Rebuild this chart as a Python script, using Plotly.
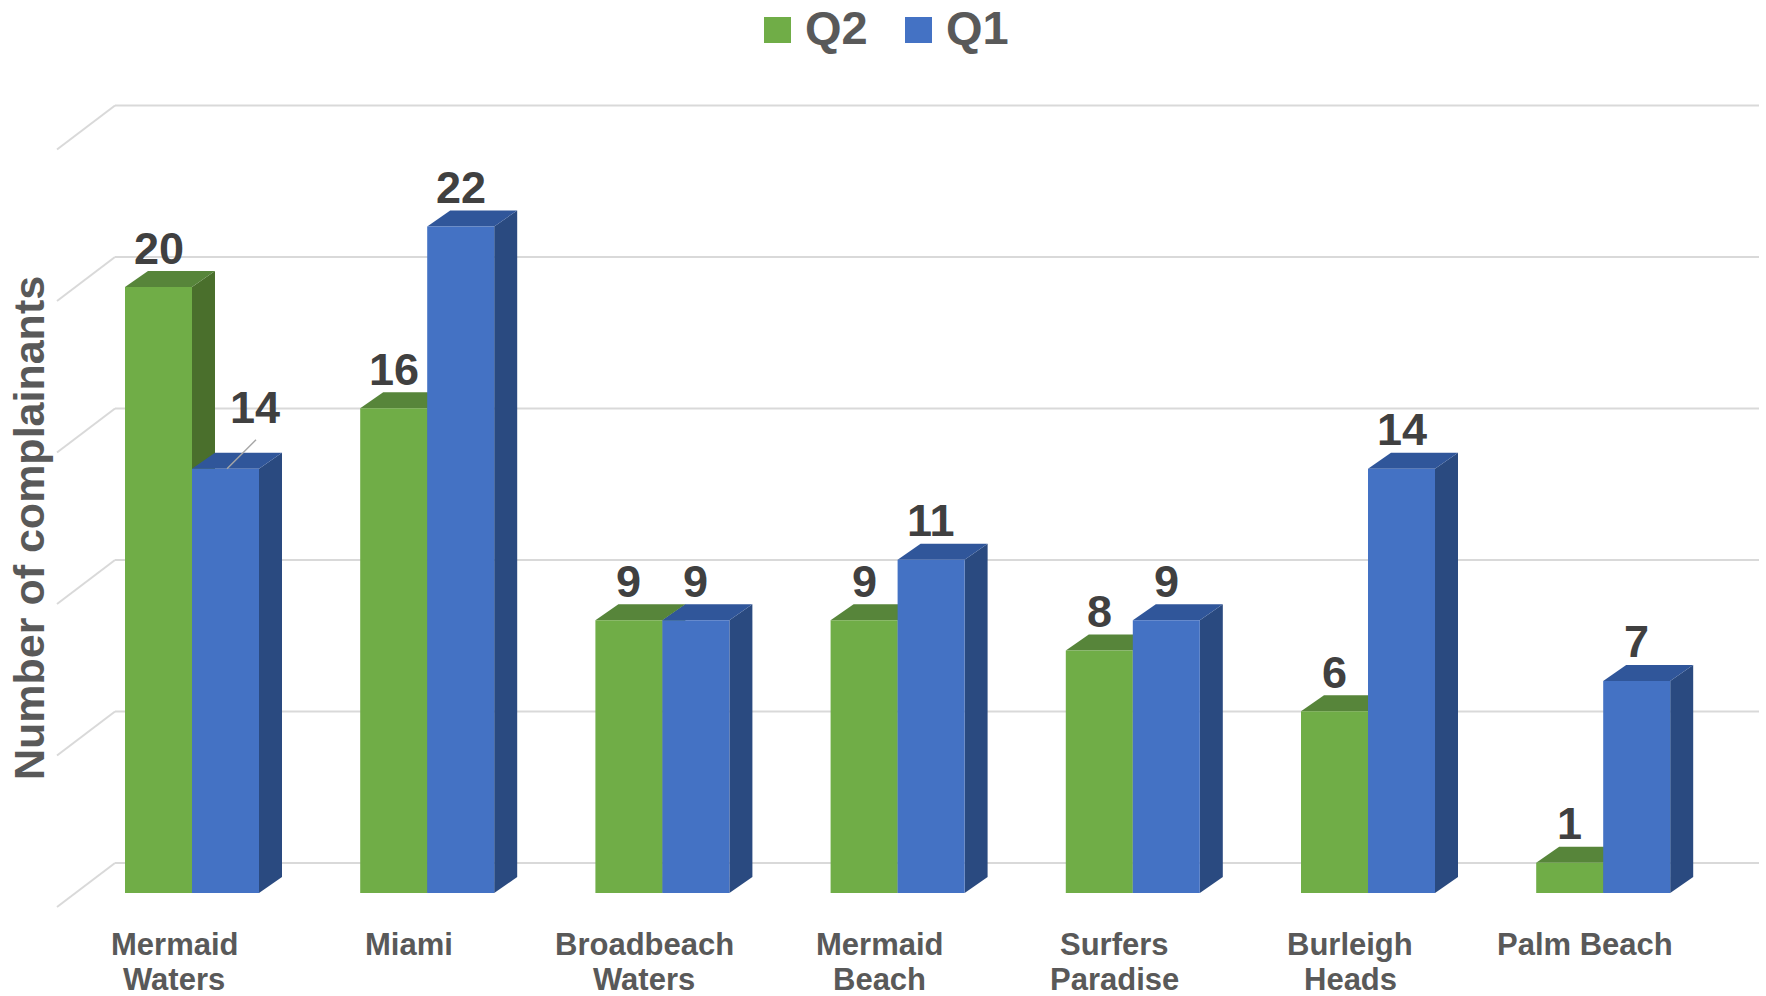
import plotly.graph_objects as go

# ---------------- data ----------------
categories = ["Mermaid Waters", "Miami", "Broadbeach Waters", "Mermaid Beach",
              "Surfers Paradise", "Burleigh Heads", "Palm Beach"]
cat_lines = [["Mermaid", "Waters"], ["Miami"], ["Broadbeach", "Waters"], ["Mermaid", "Beach"],
             ["Surfers", "Paradise"], ["Burleigh", "Heads"], ["Palm Beach"]]
q2_values = [20, 16, 9, 9, 8, 6, 1]
q1_values = [14, 22, 9, 11, 9, 14, 7]
series_names = ["Q2", "Q1"]
grid_values = [0, 5, 10, 15, 20, 25]

# ---------------- style / geometry ----------------
W_PX, H_PX = 1766, 996
PX0, PXU = 192.0, 235.2      # pixel of category 0, pixels per category
PY0, PYU = 893.0, 30.3       # pixel of value 0 (front plane), pixels per unit
BAR_W = 67 / PXU
DDX, DDV = 23 / PXU, 16 / PYU          # bar depth
WALL_DV = 30 / PYU                      # back wall offset
FLOOR_DX, FLOOR_DV = 58 / PXU, 44 / PYU  # floor depth
GRID_X0 = (115 - PX0) / PXU
GRID_X1 = (1759 - PX0) / PXU

GREEN = dict(front="#70AD47", top="#57853A", side="#4A6F2C")
BLUE = dict(front="#4472C4", top="#30569A", side="#2A4A80")
TXT_DARK = "#404040"
TXT = "#595959"
FONT = "Liberation Sans, Arial, sans-serif"

xr = [(0 - PX0) / PXU, (W_PX - PX0) / PXU]
yr = [(PY0 - H_PX) / PYU, PY0 / PYU]

def px2paper_x(p):
    return p / W_PX

def py2paper_y(p):
    return 1 - p / H_PX

fig = go.Figure()
shapes = []
annotations = []

# gridlines (back wall + floor diagonal)
for g in grid_values:
    vb = g + WALL_DV
    shapes.append(dict(type="line", xref="x", yref="y", x0=GRID_X0, x1=GRID_X1, y0=vb, y1=vb,
                       line=dict(color="#D9D9D9", width=2), layer="below"))
    shapes.append(dict(type="line", xref="x", yref="y", x0=GRID_X0 - FLOOR_DX, y0=vb - FLOOR_DV,
                       x1=GRID_X0, y1=vb, line=dict(color="#D9D9D9", width=2), layer="below"))

series = [(series_names[0], q2_values, GREEN, -BAR_W / 2),
          (series_names[1], q1_values, BLUE, BAR_W / 2)]

for name, vals, col, off in series:
    xs = [i + off for i in range(len(categories))]
    fig.add_trace(go.Bar(x=xs, y=vals, width=BAR_W, name=name, showlegend=False,
                         marker=dict(color=col["front"], line=dict(width=0)),
                         customdata=categories,
                         hovertemplate="%{customdata}<br>" + name + ": %{y}<extra></extra>"))
    for x, v in zip(xs, vals):
        x0, x1 = x - BAR_W / 2, x + BAR_W / 2
        top = f"M{x0},{v} L{x1},{v} L{x1 + DDX},{v + DDV} L{x0 + DDX},{v + DDV} Z"
        side = f"M{x1},0 L{x1},{v} L{x1 + DDX},{v + DDV} L{x1 + DDX},{DDV} Z"
        shapes.append(dict(type="path", xref="x", yref="y", path=side, fillcolor=col["side"],
                           line=dict(width=0), layer="between"))
        shapes.append(dict(type="path", xref="x", yref="y", path=top, fillcolor=col["top"],
                           line=dict(width=0), layer="between"))

# data labels
LBL_SIZE = 45
for si, (name, vals, col, off) in enumerate(series):
    for i, v in enumerate(vals):
        x = i + off
        lf = dict(family=FONT, size=LBL_SIZE, color=TXT_DARK, weight="bold")
        if si == 1 and i == 0:
            # label moved aside with a leader line
            lx0 = x + 1.5 / PXU
            shapes.append(dict(type="line", xref="x", yref="y", x0=lx0, y0=v,
                               x1=lx0 + 29 / PXU, y1=v + 29 / PYU,
                               line=dict(color="#A6A6A6", width=1.5), layer="above"))
            annotations.append(dict(x=x + 29.5 / PXU, y=v, xref="x", yref="y", text=str(v),
                                    showarrow=False, xanchor="center", yanchor="bottom",
                                    yshift=33.5, font=lf))
        else:
            annotations.append(dict(x=x, y=v, xref="x", yref="y", text=str(v), showarrow=False,
                                    xanchor="center", yanchor="bottom", yshift=11.5, font=lf))

# category labels
CAT_SIZE = 31
line_centers = [944, 979]
for i, lines in enumerate(cat_lines):
    for k, ln in enumerate(lines):
        annotations.append(dict(x=i - 18 / PXU, xref="x", y=py2paper_y(line_centers[k]), yref="paper",
                                text=ln, showarrow=False, xanchor="center", yanchor="middle",
                                font=dict(family=FONT, size=CAT_SIZE, color=TXT, weight="bold")))

# axis title
annotations.append(dict(x=px2paper_x(29), y=py2paper_y(528), xref="paper", yref="paper",
                        text="Number of complainants", textangle=-90, showarrow=False,
                        xanchor="center", yanchor="middle",
                        font=dict(family=FONT, size=43, color=TXT, weight="bold")))

# legend (drawn manually for the large markers)
legend_items = [(series_names[0], GREEN["front"], 764, 803), (series_names[1], BLUE["front"], 905, 944)]
for name, c, sx, tx in legend_items:
    shapes.append(dict(type="rect", xref="paper", yref="paper",
                       x0=px2paper_x(sx), x1=px2paper_x(sx + 27),
                       y0=py2paper_y(43), y1=py2paper_y(17),
                       fillcolor=c, line=dict(width=0), layer="above"))
    annotations.append(dict(x=px2paper_x(tx), y=py2paper_y(27), xref="paper", yref="paper",
                            text=name, showarrow=False, xanchor="left", yanchor="middle",
                            font=dict(family=FONT, size=47, color=TXT, weight="bold")))

fig.update_layout(
    width=W_PX, height=H_PX,
    margin=dict(l=0, r=0, t=0, b=0),
    paper_bgcolor="white", plot_bgcolor="white",
    barmode="overlay",
    xaxis=dict(range=xr, visible=False, fixedrange=True),
    yaxis=dict(range=yr, visible=False, fixedrange=True),
    shapes=shapes, annotations=annotations,
    showlegend=False,
)

fig.write_html("out.html")
